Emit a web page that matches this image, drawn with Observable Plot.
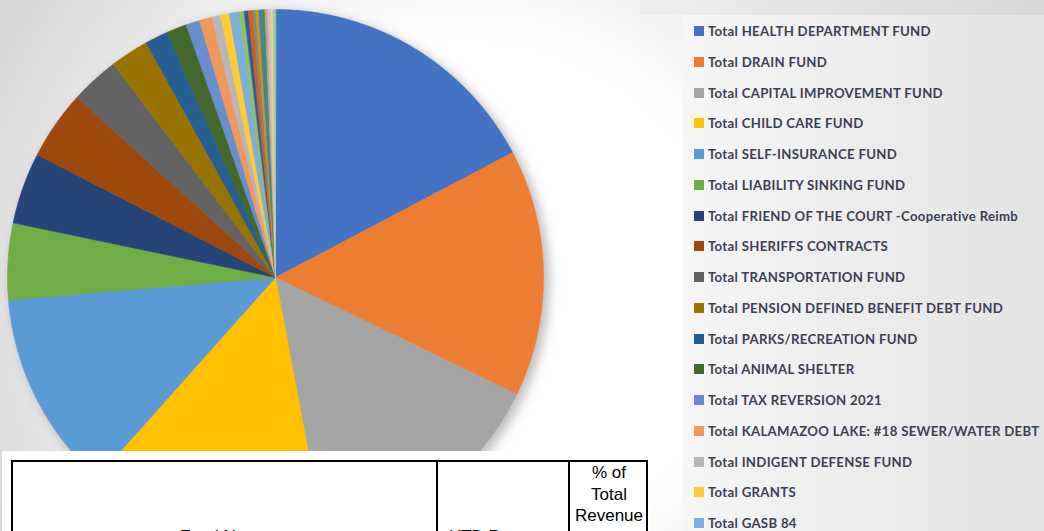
<!DOCTYPE html>
<html>
<head>
<meta charset="utf-8">
<script src="https://cdn.jsdelivr.net/npm/d3@7"></script>
<script src="https://cdn.jsdelivr.net/npm/@observablehq/plot@0.6"></script>
<style>
  html, body { margin: 0; padding: 0; }
  body {
    width: 1044px; height: 531px; overflow: hidden; position: relative;
    background: radial-gradient(circle at 470px 300px, #ffffff 0px, #ffffff 260px, #d8d8d8 530px);
    font-family: "Liberation Sans", Arial, sans-serif;
  }
  #pie { position: absolute; left: 1px; top: 3px; filter: drop-shadow(5px 4px 6px rgba(0,0,0,0.28)); }
  #legendPanel { position: absolute; left: 683px; top: 15px; right: 0; bottom: 0;
    background: linear-gradient(to right, #f6f6f6, #e3e3e3); }
  #topStrip { position: absolute; left: 640px; top: 0; right: 0; height: 15px;
    background: linear-gradient(to right, #eeeeee, #d8d8d8); }
  .lg-row { position: absolute; left: 694px; height: 14px; display: flex; align-items: center;
    font-family: "Lato", sans-serif; font-weight: 700; font-size: 13.2px; letter-spacing: 0.3px;
    color: #3e3f52; white-space: nowrap; }
  .lg-sw { width: 10px; height: 10px; margin-right: 4px; flex: none; }
  #tableBox { position: absolute; left: 2px; top: 451px; width: 648px; height: 90px; background: #fff; }
  #tbl { position: absolute; left: 11px; top: 460px; width: 637px; height: 120px;
    border: 2px solid #000; box-sizing: border-box; }
  .vline { position: absolute; top: 460px; width: 2px; height: 120px; background: #000; }
  .hdr { position: absolute; font-family: "Liberation Sans", Arial, sans-serif; font-size: 17px;
    line-height: 21.5px; color: #000; text-align: center; }
</style>
</head>
<body>
<div id="topStrip"></div>
<div id="legendPanel"></div>
<div id="pie"></div>
<div id="legend"></div>
<div id="tableBox"></div>
<div id="tbl"></div>
<div class="vline" style="left:436px"></div>
<div class="vline" style="left:568px"></div>
<div class="hdr" style="left:570px; width:78px; top:462px;">% of<br>Total<br>Revenue<br>(YTD)</div>
<div class="hdr" style="left:13px; width:423px; top:526px;">Fund Name</div>
<div class="hdr" style="left:438px; width:130px; top:526px;">YTD Revenue</div>
<script>
// Fund names shown in the legend (in slice order, clockwise from 12 o'clock)
const funds = [
  "Total HEALTH DEPARTMENT FUND",
  "Total DRAIN FUND",
  "Total CAPITAL IMPROVEMENT FUND",
  "Total CHILD CARE FUND",
  "Total SELF-INSURANCE FUND",
  "Total LIABILITY SINKING FUND",
  "Total FRIEND OF THE COURT -Cooperative Reimb",
  "Total SHERIFFS CONTRACTS",
  "Total TRANSPORTATION FUND",
  "Total PENSION DEFINED BENEFIT DEBT FUND",
  "Total PARKS/RECREATION FUND",
  "Total ANIMAL SHELTER",
  "Total TAX REVERSION 2021",
  "Total KALAMAZOO LAKE: #18 SEWER/WATER DEBT",
  "Total INDIGENT DEFENSE FUND",
  "Total GRANTS",
  "Total GASB 84"
];
// Share of total revenue (%)
const fundShares = [17.28, 14.89, 14.86, 14.56, 12.06, 4.61, 4.31, 4.14, 2.94, 2.33, 1.39, 1.22, 0.83, 0.75, 0.53, 0.53, 0.58];
// Remaining tiny slices whose legend entries are cut off in the source (%)
const otherShares = [0.31, 0.25, 0.25, 0.19, 0.19, 0.19, 0.17, 0.14, 0.14, 0.11, 0.08, 0.08, 0.08];

// Office default series palette
const palette = ["#4472C4","#ED7D31","#A5A5A5","#FFC000","#5B9BD5","#70AD47",
  "#264478","#9E480E","#636363","#997300","#255E91","#43682B",
  "#698ED0","#F1975A","#B7B7B7","#FFCD33","#7CAFDD","#8CC168",
  "#335AA1","#D26012","#848484","#CC9A00","#3C7DC4","#5A8A39",
  "#8FAADC","#F4B183","#C9C9C9","#FFD966","#9DC3E6","#A9D18E"];

const slices = [
  ...funds.map((f, i) => ({id: f, value: fundShares[i]})),
  ...otherShares.map((v, i) => ({id: "other-" + (i + 1), value: v}))
];
const ids = slices.map(d => d.id);

const arcs = d3.pie().sort(null).value(d => d.value).startAngle(0).endAngle(2 * Math.PI)(slices);
const pts = [];
for (const a of arcs) {
  const id = a.data.id;
  pts.push({id, x: 0, y: 0});
  const n = Math.max(2, Math.ceil((a.endAngle - a.startAngle) / (Math.PI / 360)));
  for (let k = 0; k <= n; k++) {
    const t = a.startAngle + (a.endAngle - a.startAngle) * k / n;
    pts.push({id, x: Math.sin(t), y: Math.cos(t)});
  }
}

const chart = Plot.plot({
  width: 548, height: 548, margin: 6,
  style: {background: "transparent", overflow: "visible"},
  x: {domain: [-1, 1], axis: null},
  y: {domain: [-1, 1], axis: null},
  color: {domain: ids, range: palette},
  marks: [
    Plot.line(pts, {x: "x", y: "y", z: "id", fill: "id", stroke: "id", strokeWidth: 0.6, curve: "linear-closed"})
  ]
});
document.getElementById("pie").appendChild(chart);

// Legend built from the same color scale
const color = chart.scale("color");
const lg = document.getElementById("legend");
funds.forEach((f, i) => {
  const row = document.createElement("div");
  row.className = "lg-row";
  row.style.top = (24 + i * 30.75) + "px";
  const sw = document.createElement("div");
  sw.className = "lg-sw";
  sw.style.background = color.apply(f);
  const tx = document.createElement("span");
  tx.textContent = f;
  row.appendChild(sw); row.appendChild(tx);
  lg.appendChild(row);
});
</script>
</body>
</html>
